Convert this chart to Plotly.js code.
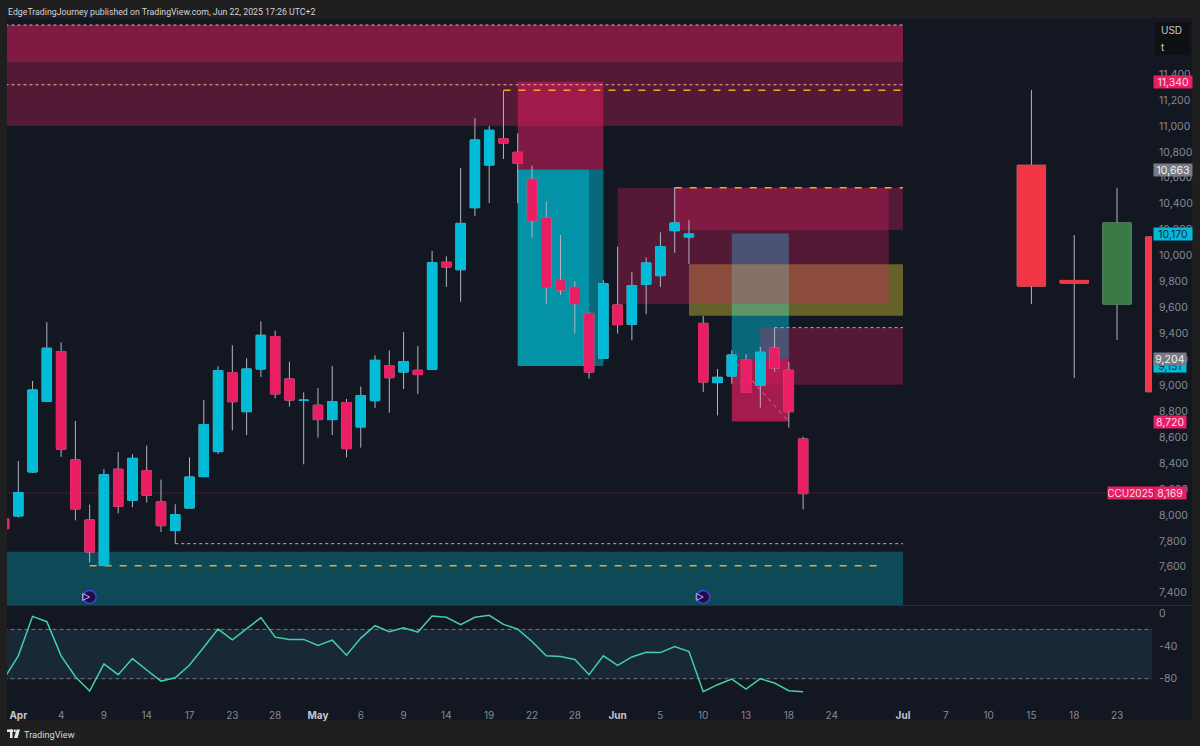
<!DOCTYPE html>
<html><head><meta charset="utf-8">
<script src="https://cdn.plot.ly/plotly-3.0.1.min.js"></script>
<style>html,body{margin:0;padding:0;background:#1f1f1f;overflow:hidden}#c{width:1200px;height:746px}</style>
</head><body><div id="c"></div>
<script>
// ---------- daily candles (index = bar number, -1 is the clipped bar at the left edge)
const barIndex = [-1,0,1,2,3,4,5,6,7,8,9,10,11,12,13,14,15,16,17,18,19,20,21,22,23,24,25,26,27,28,29,30,31,32,33,34,35,36,37,38,39,40,41,42,43,44,45,46,47,48,49,50,51,52,53,54,55];
const openP = [7969,7992,8331,8876,9259,8424,7961,7609,8352,8113,8341,8100,7879,8053,8295,8488,9097,8796,9125,9375,9048,8883,8845,8735,8866,8678,8881,9151,9102,9115,9123,9948,9891,10369,10698,10901,10796,10588,10290,9809,9755,9554,9207,9619,9470,9778,9845,10192,10143,9477,9020,9071,9197,8999,9287,9115,8585];
const highP = [7985,8416,9033,9485,9331,8724,8079,8354,8485,8467,8534,8272,8082,8444,8886,9146,9308,9208,9493,9421,9182,8945,8979,9148,8894,8989,9231,9269,9410,9303,10035,9994,10675,11061,10999,11271,10942,10693,10418,10158,9801,9562,9809,10069,9873,9984,10179,10526,10272,9534,9125,9269,9238,9295,9444,9179,8603];
const lowP = [7880,7979,8323,8876,8447,7958,7632,7609,8012,8059,8095,7868,7778,8053,8295,8470,8652,8616,9064,8899,8835,8390,8596,8616,8444,8519,8825,8789,8971,8932,9123,9758,9644,10305,10405,10745,10403,10140,9626,9696,9400,9051,9207,9398,9346,9547,9758,10022,9935,8948,8768,9012,8940,8827,9105,8673,8043];
const closeP = [7894,8172,8963,9285,8506,8046,7714,8310,8066,8436,8151,7917,8002,8292,8696,9112,8873,9125,9385,8933,8886,8884,8735,8873,8511,8920,9192,9058,9182,9082,9945,9912,10248,10891,10966,10868,10711,10269,9755,9734,9629,9102,9783,9467,9768,9943,10069,10251,10166,9025,9061,9233,8945,9254,9133,8796,8164];
const cyanC = '#00bcd9', pinkC = '#ea1e63', wickC = '#b2b5be';

// ---------- higher-timeframe candles on the right
const htfIndex = [71,74,77,80];
const htfOpen  = [10696,9808,9626,10143];
const htfHigh  = [11277,10158,10523,10143];
const htfLow   = [9626,9056,9349,8950];
const htfClose = [9765,9788,10251,8950];
const htfRed = '#f23645', htfGreen = '#3a7a47';

// ---------- oscillator pane
const oscIndex = barIndex;
const oscVal = [-80,-52.2,-4.1,-10.6,-52.2,-77.6,-95.1,-62,-75.1,-55.5,-69.4,-82.9,-78.8,-63.3,-41.6,-19.6,-32.7,-19.6,-5.7,-29.4,-32.2,-32.2,-39.6,-33.1,-51.4,-30.6,-15.5,-22.9,-18,-23.3,-3.7,-5.3,-14.3,-5.3,-2.9,-13.9,-19.6,-34.7,-52.2,-53.1,-56.7,-75.1,-52.2,-63.7,-53.5,-47.8,-48.2,-40.8,-46.9,-95.9,-87.3,-80.4,-92.7,-80,-85.3,-94.7,-95.9];
const oscBand = [-80,-20];
const oscTicks = [0,-40,-80];

// ---------- axes
const month = s => '<span style="color:#c4c6cc"><b>'+s+'</b></span>';
const xTickIdx = [0,3,6,9,12,15,18,21,24,27,30,33,36,39,42,45,48,51,54,57,62,65,68,71,74,77];
const xTickTxt = [month('Apr'),'4','9','14','17','23','28',month('May'),'6','9','14','19','22','28',month('Jun'),'5','10','13','18','24',month('Jul'),'7','10','15','18','23'];
const priceTicks = [7400,7600,7800,8000,8200,8400,8600,8800,9000,9200,9400,9600,9800,10000,10200,10400,10600,10800,11000,11200,11400];
const priceTickTxt = ['7,400','7,600','7,800','8,000','8,200','8,400','8,600','8,800','9,000','9,200','9,400','9,600','9,800','10,000','10,200','10,400','10,600','10,800','11,000','11,200','11,400'];

// ---------- zones: [x0, x1, priceLow, priceHigh]
const pinkA=.3, cyanA=.5;
const cyanZones  = [[35,41,9148,10663,cyanA],[35,40,9148,10663,cyanA],[50,54,9204,10170,cyanA]];
const oliveZones = [[47,62,9536,9933,.35]];
const pinkZones  = [[-3,62,11000,11778,pinkA],[-3,62,11492,11778,pinkA],[35,41,10663,11340,.5],[42,61,9627,10523,pinkA],[46,62,10197,10523,pinkA],[50,54,8720,9204,.68],[52,62,9004,9444,pinkA]];
const tealZones  = [[-3,62,7200,7715,pinkA]];
// ---------- level lines: [x0, x1, price]
const thinLevelsTop = [[-3,62,11778],[-3,62,11317]];
const thinLevelsLow = [[53,62,9444],[11,62,7778]];
const longLevels = [[34,62,11274],[46,62,10523],[5,60.6,7608]];
const trendLine = [50.3,54,9172,8719];
const ccuLine = [-3,76.3,8169];
const flagIdx = [5,48], flagPrice = [7367,7367];

// ---------- price labels
const lblPrice = [11340,10663,10170,9151,9204,8720,8169];
const lblText  = ['11,340','10,663','10,170','9,151','9,204','8,720','8,169'];
const lblBg    = ['#ea1e63','#787b86','#00bcd9','#00bcd9','#787b86','#ea1e63','#ea1e63'];
const lblFg    = ['#f5dfe6','#f0f0f0','#1b2a3a','#1b2a3a','#f0f0f0','#f5dfe6','#f5dfe6'];
const lblWide  = [38,38,38,32,32,32,32];

const bg='#131722', outer='#1f1f1f';
const PX = x => (x-7)/1145, PY = y => (704-y)/686;
const xRange=[-0.792,79.45];

const rect=(z,rgb)=>({type:'rect',layer:'below',xref:'x',yref:'y',x0:z[0],x1:z[1],y0:z[2],y1:z[3],fillcolor:`rgba(${rgb},${z[4]})`,line:{width:0}});
const lvl=(l,color,w,dash)=>({type:'line',layer:'below',xref:'x',yref:'y',x0:l[0],x1:l[1],y0:l[2],y1:l[2],line:{color,width:w,dash}});
const paperRect=(x0,x1,y0,y1,c)=>({type:'rect',layer:'below',xref:'paper',yref:'paper',x0:PX(x0),x1:PX(x1),y0:PY(y0),y1:PY(y1),fillcolor:c,line:{width:0}});

const shapes=[
 paperRect(7,1192,18,720,bg),
 ...tealZones.map(z=>rect([z[0],z[1],z[2],z[3],pinkA],'0,188,212')),
 ...cyanZones.map(z=>rect(z,'0,188,212')),
 ...oliveZones.map(z=>rect(z,'255,235,59')),
 ...pinkZones.map(z=>rect(z,'233,30,99')),
 ...thinLevelsTop.map(l=>lvl(l,'#e3b58e',1,'3px,3px')),
 ...thinLevelsLow.map(l=>lvl(l,'#c9ae78',1,'3px,3px')),
 ...longLevels.map(l=>lvl(l,'#f5a623',1.5,'7px,8px')),
 {type:'line',layer:'below',xref:'x',yref:'y',x0:trendLine[0],x1:trendLine[1],y0:trendLine[2],y1:trendLine[3],line:{color:'rgba(225,170,185,.65)',width:1,dash:'4px,4px'}},
 {type:'line',layer:'below',xref:'x',yref:'y',x0:ccuLine[0],x1:ccuLine[1],y0:ccuLine[2],y1:ccuLine[2],line:{color:'rgba(233,30,99,.75)',width:1,dash:'1px,2px'}},
 {type:'rect',layer:'below',xref:'x',yref:'y2',x0:-3,x1:80,y0:oscBand[0],y1:oscBand[1],fillcolor:'#192837',line:{width:0}},
 ...oscBand.map(v=>({type:'line',layer:'below',xref:'x',yref:'y2',x0:-3,x1:80,y0:v,y1:v,line:{color:'#787b86',width:1,dash:'4px,3px'}})),
 {type:'line',layer:'below',xref:'paper',yref:'paper',x0:PX(7),x1:PX(1192),y0:PY(605.5),y1:PY(605.5),line:{color:'#2a2e39',width:1}},
 paperRect(1155,1190,22,55,'#0f1012'),
 // TradingView logo
 paperRect(7,13,729.5,732,'#e8e8e8'), paperRect(10,12.5,729.5,738,'#e8e8e8'),
 {type:'circle',layer:'below',xref:'paper',yref:'paper',x0:PX(13.5),x1:PX(16),y0:PY(729.5),y1:PY(732),fillcolor:'#e8e8e8',line:{width:0}},
 {type:'path',layer:'below',xref:'paper',yref:'paper',path:`M${PX(16.5)},${PY(729.5)} L${PX(20)},${PY(729.5)} L${PX(17.5)},${PY(738)} L${PX(14)},${PY(738)} Z`,fillcolor:'#e8e8e8',line:{width:0}}
];

const annotations=[
 ...lblPrice.map((p,i)=>({xref:'paper',yref:'y',x:PX(1152.7),y:p,xanchor:'left',yanchor:'middle',text:lblText[i],showarrow:false,bgcolor:lblBg[i],width:lblWide[i],height:12,borderpad:0,align:'center',font:{family:'Inter',size:10.5,color:lblFg[i]}})),
 {xref:'paper',yref:'y',x:PX(1107.3),y:8169,xanchor:'left',yanchor:'middle',text:'CCU2025',showarrow:false,bgcolor:'#ea1e63',width:45,height:12,borderpad:0,align:'center',font:{family:'Inter',size:10,color:'#f5dfe6'}},
 {xref:'paper',yref:'paper',x:PX(1159),y:PY(30),xanchor:'left',yanchor:'middle',text:'USD',showarrow:false,font:{family:'Inter',size:10,color:'#c8cad0'}},
 {xref:'paper',yref:'paper',x:PX(1159),y:PY(47),xanchor:'left',yanchor:'middle',text:'t',showarrow:false,font:{family:'Inter',size:10,color:'#c8cad0'}},
 {xref:'paper',yref:'paper',x:PX(6),y:PY(12),xanchor:'left',yanchor:'middle',text:'EdgeTradingJourney published on TradingView.com, Jun 22, 2025 17:26 UTC+2',showarrow:false,font:{family:'Roboto',size:8.75,color:'#d1d4dc'}},
 {xref:'paper',yref:'paper',x:PX(22),y:PY(734),xanchor:'left',yanchor:'middle',text:'TradingView',showarrow:false,font:{family:'Roboto',size:9.2,color:'#d8d8d8'}}
];

const bodyTop=openP.map((o,i)=>Math.max(o,closeP[i])), bodyBot=openP.map((o,i)=>Math.min(o,closeP[i]));
const side=(c,w)=>({line:{color:c,width:w},fillcolor:c});
const traces=[
 {type:'candlestick',x:barIndex,open:openP,high:highP,low:lowP,close:closeP,xaxis:'x',yaxis:'y',whiskerwidth:0,hoverinfo:'skip',
  increasing:side(wickC,1),decreasing:side(wickC,1),showlegend:false},
 {type:'candlestick',x:barIndex,open:openP,high:bodyTop,low:bodyBot,close:closeP,xaxis:'x',yaxis:'y',whiskerwidth:0,hoverinfo:'skip',
  increasing:side(cyanC,1),decreasing:side(pinkC,1),showlegend:false},
 {type:'candlestick',x:htfIndex,open:htfOpen,high:htfHigh,low:htfLow,close:htfClose,xaxis:'x3',yaxis:'y',whiskerwidth:0,hoverinfo:'skip',
  increasing:{line:{color:wickC,width:1},fillcolor:wickC},decreasing:{line:{color:wickC,width:1},fillcolor:wickC},showlegend:false},
 {type:'candlestick',x:htfIndex,open:htfOpen,high:htfOpen.map((o,i)=>Math.max(o,htfClose[i])),low:htfOpen.map((o,i)=>Math.min(o,htfClose[i])),close:htfClose,xaxis:'x3',yaxis:'y',whiskerwidth:0,hoverinfo:'skip',
  increasing:{line:{color:htfGreen,width:1},fillcolor:htfGreen},decreasing:{line:{color:htfRed,width:1},fillcolor:htfRed},showlegend:false},
 {type:'scatter',mode:'markers',x:flagIdx,y:flagPrice,xaxis:'x',yaxis:'y',hoverinfo:'skip',showlegend:false,
  marker:{symbol:'circle',size:13,color:'#1d0f44',line:{color:'#4c3fd0',width:1.5}}},
 {type:'scatter',mode:'markers',x:flagIdx,y:flagPrice,xaxis:'x',yaxis:'y',hoverinfo:'skip',showlegend:false,
  marker:{symbol:'arrow-right-open',size:7,color:'#b7a8ff',line:{width:1}}},
 {type:'scatter',mode:'lines',x:oscIndex,y:oscVal,xaxis:'x',yaxis:'y2',hoverinfo:'skip',showlegend:false,line:{color:'#44cfa6',width:1.5}}
];

const axFont={family:'Inter',size:10.5,color:'#868993'};
const layout={
 width:1200,height:746,paper_bgcolor:outer,plot_bgcolor:bg,showlegend:false,boxgap:0.34,boxgroupgap:0,boxmode:'overlay',
 margin:{l:7,r:48,t:18,b:42,pad:0},hovermode:false,
 xaxis:{domain:[0,1],range:xRange,anchor:'y2',tickmode:'array',tickvals:xTickIdx,ticktext:xTickTxt,tickfont:{family:'Inter',size:10,color:'#868993'},
   ticks:'outside',ticklen:2,tickcolor:'rgba(0,0,0,0)',showgrid:false,zeroline:false,showline:false,rangeslider:{visible:false}},
 xaxis3:{range:xRange,overlaying:'x',anchor:'y',visible:false,showgrid:false,zeroline:false,rangeslider:{visible:false}},
 yaxis:{domain:[99/686,1],range:[7305,11832],side:'right',anchor:'x',tickmode:'array',tickvals:priceTicks,ticktext:priceTickTxt,tickfont:axFont,
   ticks:'outside',ticklen:4,tickcolor:'rgba(0,0,0,0)',showgrid:false,zeroline:false,showline:false},
 yaxis2:{domain:[0,98/686],range:[-110.8,8.5],side:'right',anchor:'x',tickmode:'array',tickvals:oscTicks,ticktext:['0','-40','-80'],tickfont:axFont,
   ticks:'outside',ticklen:4,tickcolor:'rgba(0,0,0,0)',showgrid:false,zeroline:false,showline:false},
 shapes,annotations
};
Plotly.newPlot('c',traces,layout,{displayModeBar:false,staticPlot:true});
</script></body></html>
